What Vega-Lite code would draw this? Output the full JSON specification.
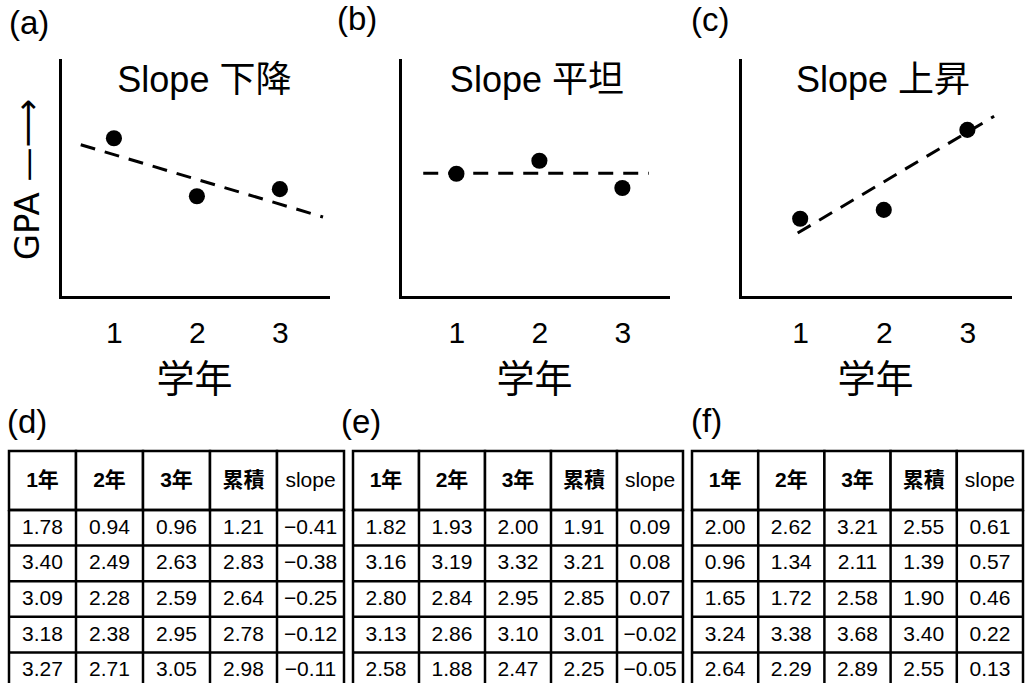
{
  "$schema": "https://vega.github.io/schema/vega-lite/v6.json",
  "padding": {"left": 7, "top": 4, "right": 0, "bottom": 0},
  "background": "white",
  "config": {
    "view": {"stroke": null},
    "font": "Liberation Sans, Noto Sans CJK JP",
    "title": {"anchor": "start", "frame": "group", "fontSize": 33, "fontWeight": "normal", "baseline": "alphabetic", "color": "black", "font": "Liberation Sans, Noto Sans CJK JP"},
    "axis": {"domainColor": "black", "domainWidth": 3, "domainCap": "square", "ticks": false, "tickSize": 0, "grid": false, "labelColor": "black", "titleColor": "black", "labelFont": "Liberation Sans, Noto Sans CJK JP", "titleFont": "Liberation Sans, Noto Sans CJK JP", "titleFontWeight": "normal"},
    "axisX": {"labelFontSize": 30, "labelPadding": 36, "labelBaseline": "middle", "titleFontSize": 38, "titleY": 83, "titleBaseline": "middle"},
    "axisY": {"labels": false}
  },
  "datasets": {
    "points": [
      {"panel": "a", "year": 1, "gpa": 2.68}, {"panel": "a", "year": 2, "gpa": 1.70}, {"panel": "a", "year": 3, "gpa": 1.82},
      {"panel": "b", "year": 1, "gpa": 2.08}, {"panel": "b", "year": 2, "gpa": 2.30}, {"panel": "b", "year": 3, "gpa": 1.84},
      {"panel": "c", "year": 1, "gpa": 1.32}, {"panel": "c", "year": 2, "gpa": 1.47}, {"panel": "c", "year": 3, "gpa": 2.82}
    ],
    "trend": [
      {"panel": "a", "year": 0.60, "gpa": 2.57}, {"panel": "a", "year": 3.52, "gpa": 1.35},
      {"panel": "b", "year": 0.60, "gpa": 2.09}, {"panel": "b", "year": 3.32, "gpa": 2.09},
      {"panel": "c", "year": 0.97, "gpa": 1.08}, {"panel": "c", "year": 3.32, "gpa": 3.05}
    ],
    "labels": [
      {"panel": "a", "label": "Slope 下降"},
      {"panel": "b", "label": "Slope 平坦"},
      {"panel": "c", "label": "Slope 上昇"}
    ],
    "tables": [
      {"table": "d", "row": 1, "1年": 1.78, "2年": 0.94, "3年": 0.96, "累積": 1.21, "slope": -0.41},
      {"table": "d", "row": 2, "1年": 3.40, "2年": 2.49, "3年": 2.63, "累積": 2.83, "slope": -0.38},
      {"table": "d", "row": 3, "1年": 3.09, "2年": 2.28, "3年": 2.59, "累積": 2.64, "slope": -0.25},
      {"table": "d", "row": 4, "1年": 3.18, "2年": 2.38, "3年": 2.95, "累積": 2.78, "slope": -0.12},
      {"table": "d", "row": 5, "1年": 3.27, "2年": 2.71, "3年": 3.05, "累積": 2.98, "slope": -0.11},
      {"table": "e", "row": 1, "1年": 1.82, "2年": 1.93, "3年": 2.00, "累積": 1.91, "slope": 0.09},
      {"table": "e", "row": 2, "1年": 3.16, "2年": 3.19, "3年": 3.32, "累積": 3.21, "slope": 0.08},
      {"table": "e", "row": 3, "1年": 2.80, "2年": 2.84, "3年": 2.95, "累積": 2.85, "slope": 0.07},
      {"table": "e", "row": 4, "1年": 3.13, "2年": 2.86, "3年": 3.10, "累積": 3.01, "slope": -0.02},
      {"table": "e", "row": 5, "1年": 2.58, "2年": 1.88, "3年": 2.47, "累積": 2.25, "slope": -0.05},
      {"table": "f", "row": 1, "1年": 2.00, "2年": 2.62, "3年": 3.21, "累積": 2.55, "slope": 0.61},
      {"table": "f", "row": 2, "1年": 0.96, "2年": 1.34, "3年": 2.11, "累積": 1.39, "slope": 0.57},
      {"table": "f", "row": 3, "1年": 1.65, "2年": 1.72, "3年": 2.58, "累積": 1.90, "slope": 0.46},
      {"table": "f", "row": 4, "1年": 3.24, "2年": 3.38, "3年": 3.68, "累積": 3.40, "slope": 0.22},
      {"table": "f", "row": 5, "1年": 2.64, "2年": 2.29, "3年": 2.89, "累積": 2.55, "slope": 0.13}
    ]
  },
  "bounds": "full",
  "spacing": 6,
  "vconcat": [
    {
      "bounds": "flush",
      "spacing": 0,
      "hconcat": [
        {"width": 51, "height": 237, "data": {"values": []}, "mark": "point"},
        {
          "bounds": "flush",
          "spacing": 72,
          "hconcat": [
            {
              "width": 268, "height": 237,
              "title": {"text": "(a)", "dx": -51, "offset": 19},
              "layer": [
                {
                  "data": {"name": "trend"},
                  "transform": [{"filter": "datum.panel == 'a'"}],
                  "mark": {"type": "line", "strokeDash": [15, 10], "strokeWidth": 3, "color": "black"},
                  "encoding": {
                    "x": {"field": "year", "type": "quantitative", "scale": {"domain": [0.35, 3.58], "nice": false, "zero": false}, "axis": {"values": [1, 2, 3], "format": "d", "title": "学年"}},
                    "y": {"field": "gpa", "type": "quantitative", "scale": {"domain": [0, 4], "nice": false}, "axis": {"title": "GPA —⟶", "titleFont": "DejaVu Sans", "titleX": -32, "titleY": 119, "titleAngle": 270, "titleAlign": "center", "titleBaseline": "middle", "titleFontSize": 34}}
                  }
                },
                {
                  "data": {"name": "points"},
                  "transform": [{"filter": "datum.panel == 'a'"}],
                  "mark": {"type": "circle", "size": 260, "color": "black", "opacity": 1},
                  "encoding": {"x": {"field": "year", "type": "quantitative"}, "y": {"field": "gpa", "type": "quantitative"}}
                },
                {
                  "data": {"name": "labels"},
                  "transform": [{"filter": "datum.panel == 'a'"}],
                  "mark": {"type": "text", "fontSize": 36, "align": "center", "baseline": "middle", "color": "black"},
                  "encoding": {"x": {"datum": 2.09, "type": "quantitative"}, "y": {"datum": 3.65, "type": "quantitative"}, "text": {"field": "label"}}
                }
              ]
            },
            {
              "width": 268, "height": 237,
              "title": {"text": "(b)", "dx": -63, "offset": 23},
              "layer": [
                {
                  "data": {"name": "trend"},
                  "transform": [{"filter": "datum.panel == 'b'"}],
                  "mark": {"type": "line", "strokeDash": [15, 10], "strokeWidth": 3, "color": "black"},
                  "encoding": {
                    "x": {"field": "year", "type": "quantitative", "scale": {"domain": [0.32, 3.55], "nice": false, "zero": false}, "axis": {"values": [1, 2, 3], "format": "d", "title": "学年"}},
                    "y": {"field": "gpa", "type": "quantitative", "scale": {"domain": [0, 4], "nice": false}, "axis": {"title": null}}
                  }
                },
                {
                  "data": {"name": "points"},
                  "transform": [{"filter": "datum.panel == 'b'"}],
                  "mark": {"type": "circle", "size": 260, "color": "black", "opacity": 1},
                  "encoding": {"x": {"field": "year", "type": "quantitative"}, "y": {"field": "gpa", "type": "quantitative"}}
                },
                {
                  "data": {"name": "labels"},
                  "transform": [{"filter": "datum.panel == 'b'"}],
                  "mark": {"type": "text", "fontSize": 36, "align": "center", "baseline": "middle", "color": "black"},
                  "encoding": {"x": {"datum": 1.97, "type": "quantitative"}, "y": {"datum": 3.65, "type": "quantitative"}, "text": {"field": "label"}}
                }
              ]
            },
            {
              "width": 270, "height": 237,
              "title": {"text": "(c)", "dx": -49, "offset": 22},
              "layer": [
                {
                  "data": {"name": "trend"},
                  "transform": [{"filter": "datum.panel == 'c'"}],
                  "mark": {"type": "line", "strokeDash": [15, 10], "strokeWidth": 3, "color": "black"},
                  "encoding": {
                    "x": {"field": "year", "type": "quantitative", "scale": {"domain": [0.28, 3.51], "nice": false, "zero": false}, "axis": {"values": [1, 2, 3], "format": "d", "title": "学年"}},
                    "y": {"field": "gpa", "type": "quantitative", "scale": {"domain": [0, 4], "nice": false}, "axis": {"title": null}}
                  }
                },
                {
                  "data": {"name": "points"},
                  "transform": [{"filter": "datum.panel == 'c'"}],
                  "mark": {"type": "circle", "size": 260, "color": "black", "opacity": 1},
                  "encoding": {"x": {"field": "year", "type": "quantitative"}, "y": {"field": "gpa", "type": "quantitative"}}
                },
                {
                  "data": {"name": "labels"},
                  "transform": [{"filter": "datum.panel == 'c'"}],
                  "mark": {"type": "text", "fontSize": 36, "align": "center", "baseline": "middle", "color": "black"},
                  "encoding": {"x": {"datum": 1.99, "type": "quantitative"}, "y": {"datum": 3.65, "type": "quantitative"}, "text": {"field": "label"}}
                }
              ]
            }
          ]
        }
      ]
    },
    {
      "bounds": "flush",
      "columns": 3,
      "spacing": {"row": 0, "column": 9},
      "concat": [
        {
          "width": 335, "height": 59,
          "title": {"text": "(d)", "dx": -2, "offset": 10},
          "data": {"name": "tables"},
          "transform": [{"filter": "datum.table == 'd' && datum.row == 1"}, {"fold": ["1年", "2年", "3年", "累積", "slope"], "as": ["col", "value"]}],
          "layer": [
            {"mark": {"type": "rect", "fill": "white", "stroke": "black", "strokeWidth": 2.5},
             "encoding": {"x": {"field": "col", "type": "nominal", "sort": ["1年", "2年", "3年", "累積", "slope"], "scale": {"paddingInner": 0, "paddingOuter": 0}, "axis": null}}},
            {"transform": [{"filter": "datum.col != 'slope'"}],
             "mark": {"type": "text", "fontSize": 21, "fontWeight": "bold", "color": "black"},
             "encoding": {"x": {"field": "col", "type": "nominal", "sort": ["1年", "2年", "3年", "累積", "slope"]}, "text": {"field": "col"}}},
            {"transform": [{"filter": "datum.col == 'slope'"}],
             "mark": {"type": "text", "fontSize": 21, "fontWeight": "normal", "color": "black"},
             "encoding": {"x": {"field": "col", "type": "nominal", "sort": ["1年", "2年", "3年", "累積", "slope"]}, "text": {"field": "col"}}}
          ]
        },
        {
          "width": 330, "height": 59,
          "title": {"text": "(e)", "dx": -12, "offset": 10},
          "data": {"name": "tables"},
          "transform": [{"filter": "datum.table == 'e' && datum.row == 1"}, {"fold": ["1年", "2年", "3年", "累積", "slope"], "as": ["col", "value"]}],
          "layer": [
            {"mark": {"type": "rect", "fill": "white", "stroke": "black", "strokeWidth": 2.5},
             "encoding": {"x": {"field": "col", "type": "nominal", "sort": ["1年", "2年", "3年", "累積", "slope"], "scale": {"paddingInner": 0, "paddingOuter": 0}, "axis": null}}},
            {"transform": [{"filter": "datum.col != 'slope'"}],
             "mark": {"type": "text", "fontSize": 21, "fontWeight": "bold", "color": "black"},
             "encoding": {"x": {"field": "col", "type": "nominal", "sort": ["1年", "2年", "3年", "累積", "slope"]}, "text": {"field": "col"}}},
            {"transform": [{"filter": "datum.col == 'slope'"}],
             "mark": {"type": "text", "fontSize": 21, "fontWeight": "normal", "color": "black"},
             "encoding": {"x": {"field": "col", "type": "nominal", "sort": ["1年", "2年", "3年", "累積", "slope"]}, "text": {"field": "col"}}}
          ]
        },
        {
          "width": 331, "height": 59,
          "title": {"text": "(f)", "dx": -1, "offset": 11},
          "data": {"name": "tables"},
          "transform": [{"filter": "datum.table == 'f' && datum.row == 1"}, {"fold": ["1年", "2年", "3年", "累積", "slope"], "as": ["col", "value"]}],
          "layer": [
            {"mark": {"type": "rect", "fill": "white", "stroke": "black", "strokeWidth": 2.5},
             "encoding": {"x": {"field": "col", "type": "nominal", "sort": ["1年", "2年", "3年", "累積", "slope"], "scale": {"paddingInner": 0, "paddingOuter": 0}, "axis": null}}},
            {"transform": [{"filter": "datum.col != 'slope'"}],
             "mark": {"type": "text", "fontSize": 21, "fontWeight": "bold", "color": "black"},
             "encoding": {"x": {"field": "col", "type": "nominal", "sort": ["1年", "2年", "3年", "累積", "slope"]}, "text": {"field": "col"}}},
            {"transform": [{"filter": "datum.col == 'slope'"}],
             "mark": {"type": "text", "fontSize": 21, "fontWeight": "normal", "color": "black"},
             "encoding": {"x": {"field": "col", "type": "nominal", "sort": ["1年", "2年", "3年", "累積", "slope"]}, "text": {"field": "col"}}}
          ]
        },
        {
          "width": 335, "height": 178,
          "data": {"name": "tables"},
          "transform": [{"filter": "datum.table == 'd'"}, {"fold": ["1年", "2年", "3年", "累積", "slope"], "as": ["col", "value"]}],
          "layer": [
            {"mark": {"type": "text", "fontSize": 21, "color": "black"},
             "encoding": {"x": {"field": "col", "type": "nominal", "sort": ["1年", "2年", "3年", "累積", "slope"], "scale": {"paddingInner": 0, "paddingOuter": 0}, "axis": null},
                          "y": {"field": "row", "type": "ordinal", "scale": {"paddingInner": 0, "paddingOuter": 0}, "axis": null},
                          "text": {"field": "value", "type": "quantitative", "format": ".2f"}}},
            {"transform": [{"aggregate": [], "groupby": ["col"]}],
             "mark": {"type": "rule", "color": "black", "strokeWidth": 2.5},
             "encoding": {"x": {"field": "col", "type": "nominal", "sort": ["1年", "2年", "3年", "累積", "slope"], "bandPosition": 0}}},
            {"transform": [{"filter": "datum.col == 'slope'"}, {"aggregate": [], "groupby": ["col"]}],
             "mark": {"type": "rule", "color": "black", "strokeWidth": 2.5},
             "encoding": {"x": {"field": "col", "type": "nominal", "sort": ["1年", "2年", "3年", "累積", "slope"], "bandPosition": 1}}},
            {"transform": [{"aggregate": [], "groupby": ["row"]}],
             "mark": {"type": "rule", "color": "black", "strokeWidth": 2.5},
             "encoding": {"y": {"field": "row", "type": "ordinal", "bandPosition": 0}}}
          ]
        },
        {
          "width": 330, "height": 178,
          "data": {"name": "tables"},
          "transform": [{"filter": "datum.table == 'e'"}, {"fold": ["1年", "2年", "3年", "累積", "slope"], "as": ["col", "value"]}],
          "layer": [
            {"mark": {"type": "text", "fontSize": 21, "color": "black"},
             "encoding": {"x": {"field": "col", "type": "nominal", "sort": ["1年", "2年", "3年", "累積", "slope"], "scale": {"paddingInner": 0, "paddingOuter": 0}, "axis": null},
                          "y": {"field": "row", "type": "ordinal", "scale": {"paddingInner": 0, "paddingOuter": 0}, "axis": null},
                          "text": {"field": "value", "type": "quantitative", "format": ".2f"}}},
            {"transform": [{"aggregate": [], "groupby": ["col"]}],
             "mark": {"type": "rule", "color": "black", "strokeWidth": 2.5},
             "encoding": {"x": {"field": "col", "type": "nominal", "sort": ["1年", "2年", "3年", "累積", "slope"], "bandPosition": 0}}},
            {"transform": [{"filter": "datum.col == 'slope'"}, {"aggregate": [], "groupby": ["col"]}],
             "mark": {"type": "rule", "color": "black", "strokeWidth": 2.5},
             "encoding": {"x": {"field": "col", "type": "nominal", "sort": ["1年", "2年", "3年", "累積", "slope"], "bandPosition": 1}}},
            {"transform": [{"aggregate": [], "groupby": ["row"]}],
             "mark": {"type": "rule", "color": "black", "strokeWidth": 2.5},
             "encoding": {"y": {"field": "row", "type": "ordinal", "bandPosition": 0}}}
          ]
        },
        {
          "width": 331, "height": 178,
          "data": {"name": "tables"},
          "transform": [{"filter": "datum.table == 'f'"}, {"fold": ["1年", "2年", "3年", "累積", "slope"], "as": ["col", "value"]}],
          "layer": [
            {"mark": {"type": "text", "fontSize": 21, "color": "black"},
             "encoding": {"x": {"field": "col", "type": "nominal", "sort": ["1年", "2年", "3年", "累積", "slope"], "scale": {"paddingInner": 0, "paddingOuter": 0}, "axis": null},
                          "y": {"field": "row", "type": "ordinal", "scale": {"paddingInner": 0, "paddingOuter": 0}, "axis": null},
                          "text": {"field": "value", "type": "quantitative", "format": ".2f"}}},
            {"transform": [{"aggregate": [], "groupby": ["col"]}],
             "mark": {"type": "rule", "color": "black", "strokeWidth": 2.5},
             "encoding": {"x": {"field": "col", "type": "nominal", "sort": ["1年", "2年", "3年", "累積", "slope"], "bandPosition": 0}}},
            {"transform": [{"filter": "datum.col == 'slope'"}, {"aggregate": [], "groupby": ["col"]}],
             "mark": {"type": "rule", "color": "black", "strokeWidth": 2.5},
             "encoding": {"x": {"field": "col", "type": "nominal", "sort": ["1年", "2年", "3年", "累積", "slope"], "bandPosition": 1}}},
            {"transform": [{"aggregate": [], "groupby": ["row"]}],
             "mark": {"type": "rule", "color": "black", "strokeWidth": 2.5},
             "encoding": {"y": {"field": "row", "type": "ordinal", "bandPosition": 0}}}
          ]
        }
      ]
    }
  ]
}
